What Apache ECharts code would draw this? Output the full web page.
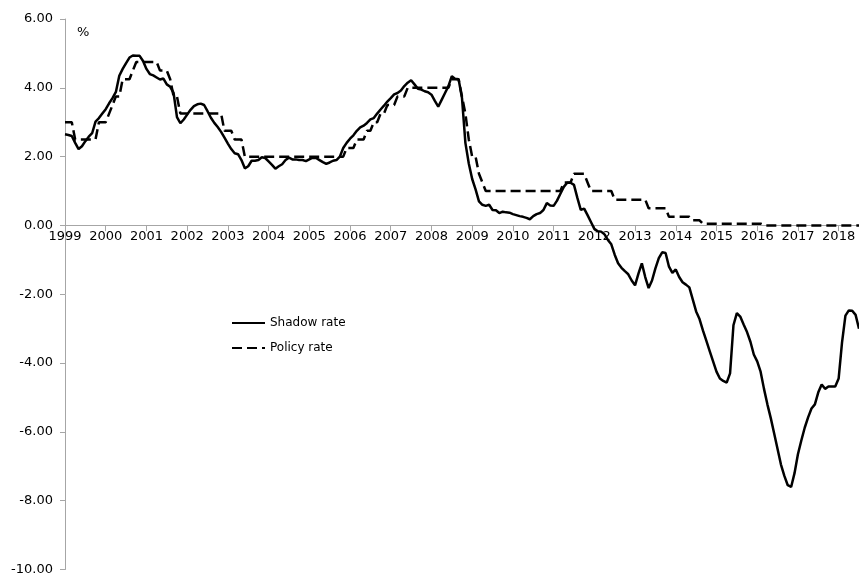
<!DOCTYPE html>
<html>
<head>
<meta charset="utf-8">
<script src="https://cdn.jsdelivr.net/npm/echarts@6/dist/echarts.min.js"></script>
<style>html,body{margin:0;padding:0;background:#fff}#c{width:859px;height:576px}</style>
</head>
<body>
<div id="c"></div>
<script>
// Monthly observations, Jan 1999 – Jul 2018
var years = [1999,2000,2001,2002,2003,2004,2005,2006,2007,2008,2009,2010,2011,2012,2013,2014,2015,2016,2017,2018];
var lastMonthOf2018 = 7;

var shadowRate = [
  2.65, 2.63, 2.60, 2.40, 2.22, 2.30, 2.45, 2.58, 2.68, 3.02, 3.12, 3.25,
  3.38, 3.55, 3.70, 3.88, 4.35, 4.55, 4.72, 4.88, 4.94, 4.93, 4.93, 4.78,
  4.55, 4.40, 4.36, 4.30, 4.24, 4.27, 4.10, 4.03, 3.85, 3.15, 2.97, 3.08,
  3.22, 3.36, 3.47, 3.52, 3.54, 3.50, 3.32, 3.13, 2.98, 2.86, 2.72, 2.55,
  2.38, 2.22, 2.10, 2.07, 1.90, 1.66, 1.72, 1.88, 1.88, 1.90, 1.98, 1.96,
  1.86, 1.76, 1.65, 1.72, 1.78, 1.90, 1.97, 1.92, 1.92, 1.90, 1.90, 1.87,
  1.92, 1.97, 1.96, 1.90, 1.84, 1.79, 1.83, 1.88, 1.90, 2.00, 2.25, 2.40,
  2.52, 2.62, 2.75, 2.85, 2.90, 2.98, 3.08, 3.12, 3.25, 3.37, 3.48, 3.60,
  3.70, 3.81, 3.85, 3.92, 4.05, 4.15, 4.22, 4.10, 3.97, 3.95, 3.90, 3.87,
  3.80, 3.62, 3.45, 3.65, 3.85, 4.05, 4.34, 4.26, 4.25, 3.70, 2.40, 1.80,
  1.35, 1.05, 0.70, 0.60, 0.57, 0.60, 0.45, 0.44, 0.36, 0.40, 0.38, 0.37,
  0.33, 0.30, 0.27, 0.25, 0.22, 0.18, 0.27, 0.33, 0.36, 0.45, 0.65, 0.58,
  0.57, 0.72, 0.92, 1.12, 1.24, 1.24, 1.18, 0.80, 0.45, 0.49, 0.30, 0.10,
  -0.10, -0.17, -0.18, -0.26, -0.42, -0.55, -0.85, -1.10, -1.23, -1.33, -1.42, -1.60,
  -1.74, -1.40, -1.10, -1.50, -1.82, -1.60, -1.25, -0.95, -0.78, -0.80, -1.20, -1.38,
  -1.28, -1.50, -1.65, -1.72, -1.80, -2.15, -2.50, -2.72, -3.05, -3.35, -3.65, -3.95,
  -4.25, -4.45, -4.52, -4.57, -4.30, -2.90, -2.55, -2.65, -2.88, -3.10, -3.38, -3.75,
  -3.95, -4.25, -4.75, -5.20, -5.60, -6.05, -6.50, -6.95, -7.28, -7.55, -7.60, -7.20,
  -6.65, -6.25, -5.88, -5.58, -5.32, -5.20, -4.85, -4.62, -4.75, -4.68, -4.68, -4.68,
  -4.45, -3.40, -2.62, -2.47, -2.48, -2.60, -3.00
];

var policyRate = [
  3.00, 3.00, 3.00, 2.50, 2.50, 2.50, 2.50, 2.50, 2.50, 2.50, 3.00, 3.00,
  3.00, 3.25, 3.50, 3.75, 3.75, 4.25, 4.25, 4.25, 4.50, 4.75, 4.75, 4.75,
  4.75, 4.75, 4.75, 4.75, 4.50, 4.50, 4.50, 4.25, 3.75, 3.75, 3.25, 3.25,
  3.25, 3.25, 3.25, 3.25, 3.25, 3.25, 3.25, 3.25, 3.25, 3.25, 3.25, 2.75,
  2.75, 2.75, 2.50, 2.50, 2.50, 2.00, 2.00, 2.00, 2.00, 2.00, 2.00, 2.00,
  2.00, 2.00, 2.00, 2.00, 2.00, 2.00, 2.00, 2.00, 2.00, 2.00, 2.00, 2.00,
  2.00, 2.00, 2.00, 2.00, 2.00, 2.00, 2.00, 2.00, 2.00, 2.00, 2.00, 2.25,
  2.25, 2.25, 2.50, 2.50, 2.50, 2.75, 2.75, 3.00, 3.00, 3.25, 3.25, 3.50,
  3.50, 3.50, 3.75, 3.75, 3.75, 4.00, 4.00, 4.00, 4.00, 4.00, 4.00, 4.00,
  4.00, 4.00, 4.00, 4.00, 4.00, 4.00, 4.25, 4.25, 4.25, 3.75, 3.25, 2.50,
  2.00, 2.00, 1.50, 1.25, 1.00, 1.00, 1.00, 1.00, 1.00, 1.00, 1.00, 1.00,
  1.00, 1.00, 1.00, 1.00, 1.00, 1.00, 1.00, 1.00, 1.00, 1.00, 1.00, 1.00,
  1.00, 1.00, 1.00, 1.25, 1.25, 1.25, 1.50, 1.50, 1.50, 1.50, 1.25, 1.00,
  1.00, 1.00, 1.00, 1.00, 1.00, 1.00, 0.75, 0.75, 0.75, 0.75, 0.75, 0.75,
  0.75, 0.75, 0.75, 0.75, 0.50, 0.50, 0.50, 0.50, 0.50, 0.50, 0.25, 0.25,
  0.25, 0.25, 0.25, 0.25, 0.25, 0.15, 0.15, 0.15, 0.05, 0.05, 0.05, 0.05,
  0.05, 0.05, 0.05, 0.05, 0.05, 0.05, 0.05, 0.05, 0.05, 0.05, 0.05, 0.05,
  0.05, 0.05, 0.00, 0.00, 0.00, 0.00, 0.00, 0.00, 0.00, 0.00, 0.00, 0.00,
  0.00, 0.00, 0.00, 0.00, 0.00, 0.00, 0.00, 0.00, 0.00, 0.00, 0.00, 0.00,
  0.00, 0.00, 0.00, 0.00, 0.00, 0.00, 0.00
];

var seriesNames = ['Shadow rate', 'Policy rate'];
var unitLabel = '%';
var yMin = -10, yMax = 6;

var months = [];
years.forEach(function (y) {
  var n = (y === 2018) ? lastMonthOf2018 : 12;
  for (var m = 1; m <= n; m++) months.push(y + '-' + (m < 10 ? '0' + m : m));
});

var FONT = 'DejaVu Sans';
var W = 859, H = 576, G_TOP = 19, G_BOTTOM = 6;
var plotH = H - G_TOP - G_BOTTOM;
// shift the category axis up so it sits on the zero line
var zeroOffset = -plotH * (0 - yMin) / (yMax - yMin);

var chart = echarts.init(document.getElementById('c'), null, {renderer: 'canvas'});
chart.setOption({
  animation: false,
  backgroundColor: '#fff',
  title: {
    text: unitLabel, left: 77, top: 26, padding: 0,
    textStyle: {fontFamily: FONT, fontSize: 13, fontWeight: 'normal', color: '#000'}
  },
  legend: {
    orient: 'vertical', left: 231, top: 317, padding: 0,
    itemWidth: 33, itemHeight: 12, itemGap: 13,
    itemStyle: {opacity: 0},
    textStyle: {fontFamily: FONT, fontSize: 12, color: '#000'},
    data: seriesNames
  },
  grid: {left: 65, right: 0, top: G_TOP, bottom: G_BOTTOM, containLabel: false},
  xAxis: {
    type: 'category', data: months, boundaryGap: false,
    position: 'bottom', offset: zeroOffset,
    axisLine: {onZero: false, lineStyle: {color: '#a6a6a6', width: 1}},
    axisTick: {show: true, interval: 11, length: 6, inside: false, lineStyle: {color: '#a6a6a6'}},
    axisLabel: {
      interval: 11, margin: 5, fontFamily: FONT, fontSize: 13, color: '#000',
      formatter: function (v) { return v.slice(0, 4); }
    },
    splitLine: {show: false}
  },
  yAxis: {
    type: 'value', min: yMin, max: yMax, interval: 2,
    axisLine: {show: true, lineStyle: {color: '#a6a6a6', width: 1}},
    axisTick: {show: true, length: 5, lineStyle: {color: '#a6a6a6'}},
    axisLabel: {
      margin: 12, fontFamily: FONT, fontSize: 13, color: '#000',
      formatter: function (v) { return v.toFixed(2); }
    },
    splitLine: {show: false}
  },
  series: [
    {
      name: seriesNames[0], type: 'line', data: shadowRate, symbol: 'none',
      lineStyle: {color: '#000', width: 2.5, type: 'solid'},
      itemStyle: {color: '#000'}, z: 3
    },
    {
      name: seriesNames[1], type: 'line', data: policyRate, symbol: 'none',
      lineStyle: {color: '#000', width: 2.5, type: [10, 5]},
      itemStyle: {color: '#000'}, z: 2
    }
  ]
});
</script>
</body>
</html>
